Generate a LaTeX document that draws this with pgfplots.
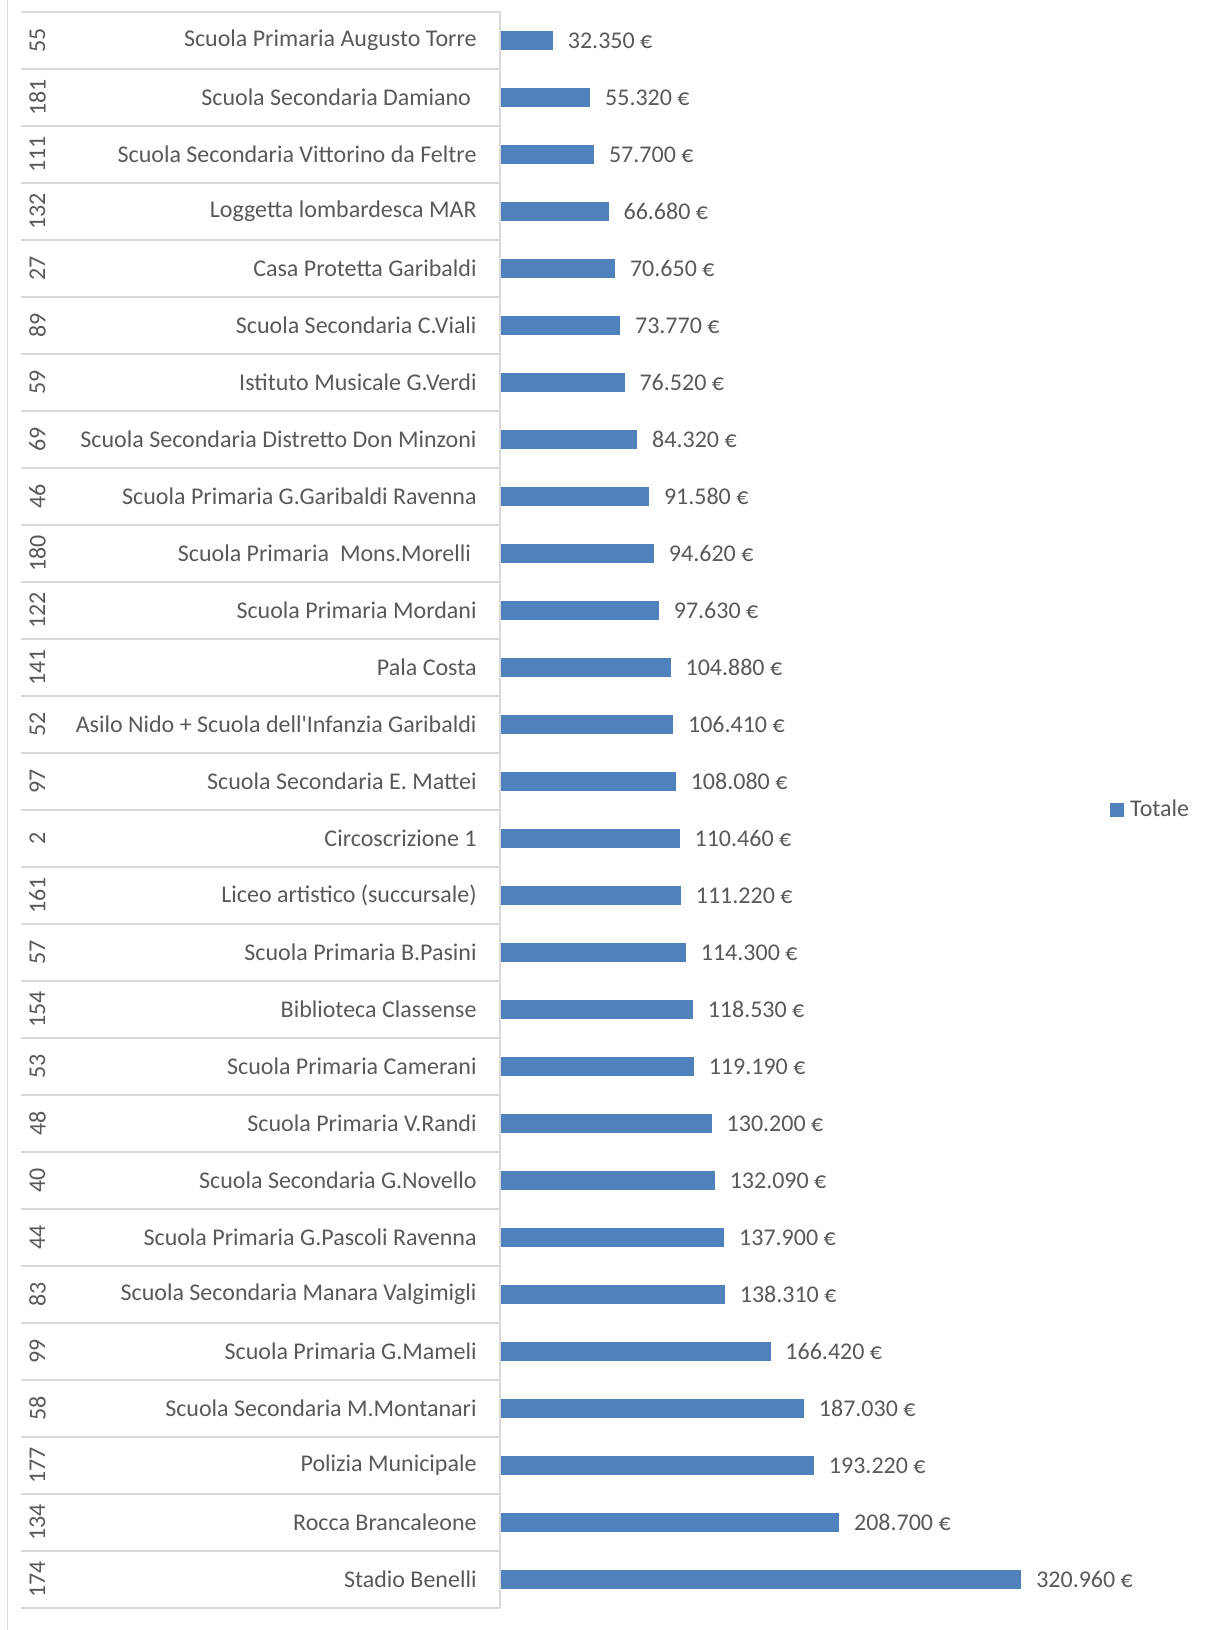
\documentclass[border=0pt]{standalone}
\usepackage{pgfplots}
\pgfplotsset{compat=1.18}
\usepackage{fontspec}
\setmainfont{Carlito}[Ligatures=TeXOff]
\definecolor{barblue}{HTML}{4F81BD}
\definecolor{gridgray}{HTML}{D9D9D9}
\definecolor{textgray}{HTML}{595959}
\begin{document}
\begin{tikzpicture}[font=\fontsize{12pt}{14pt}\selectfont]
\path[use as bounding box] (0,0) rectangle (603pt,815pt);
\draw[gridgray, line width=0.75pt] (3.75pt,0) -- (3.75pt,815pt);
\begin{axis}[
 at={(250pt,11pt)}, anchor=south west,
 width=284pt, height=798pt, scale only axis,
 xbar, bar width=9.35pt,
 xmin=0, xmax=350000,
 ymin=-0.5, ymax=27.5, y dir=reverse,
 axis line style={draw=none},
 xtick=\empty,
 ytick={0,...,27},
 yticklabels={
 {Scuola Primaria Augusto Torre},
 {Scuola Secondaria Damiano\kern2.8pt},
 {Scuola Secondaria Vittorino da Feltre},
 {Loggetta lombardesca MAR},
 {Casa Protetta Garibaldi},
 {Scuola Secondaria C.Viali},
 {Istituto Musicale G.Verdi},
 {Scuola Secondaria Distretto Don Minzoni},
 {Scuola Primaria G.Garibaldi Ravenna},
 {Scuola Primaria\kern2.8pt\ Mons.Morelli\kern2.8pt},
 {Scuola Primaria Mordani},
 {Pala Costa},
 {Asilo Nido + Scuola dell'Infanzia Garibaldi},
 {Scuola Secondaria E. Mattei},
 {Circoscrizione 1},
 {Liceo artistico (succursale)},
 {Scuola Primaria B.Pasini},
 {Biblioteca Classense},
 {Scuola Primaria Camerani},
 {Scuola Primaria V.Randi},
 {Scuola Secondaria G.Novello},
 {Scuola Primaria G.Pascoli Ravenna},
 {Scuola Secondaria Manara Valgimigli},
 {Scuola Primaria G.Mameli},
 {Scuola Secondaria M.Montanari},
 {Polizia Municipale},
 {Rocca Brancaleone},
 {Stadio Benelli}},
 ytick style={draw=none},
 major tick length=0pt,
 yticklabel style={anchor=east, inner sep=0pt, xshift=-11.5pt, text=textgray, font=\fontsize{12pt}{14pt}\selectfont},
 clip=false,
 nodes near coords, point meta=explicit symbolic,
 every node near coord/.append style={anchor=west, inner sep=0pt, xshift=7.5pt, text=textgray, font=\fontsize{12pt}{14pt}\selectfont},
 legend style={at={(1.074,0.5)}, anchor=west, draw=none, fill=none, inner sep=0pt, column sep=3pt, font=\fontsize{12pt}{14pt}\selectfont, text=textgray, nodes={inner sep=0pt}},
 legend image code/.code={\fill[barblue] (0pt,-3.25pt) rectangle (6.5pt,3.25pt);},
 after end axis/.code={
   \foreach \i [evaluate=\i as \yy using \i-0.5] in {0,...,28} {\draw[gridgray, line width=0.75pt] ([xshift=-239.6pt]axis cs:0,\yy) -- (axis cs:0,\yy);}
   \draw[gridgray, line width=0.75pt] (axis cs:0,-0.5) -- (axis cs:0,27.5);
   \foreach \i/\n in {0/55,1/181,2/111,3/132,4/27,5/89,6/59,7/69,8/46,9/180,10/122,11/141,12/52,13/97,14/2,15/161,16/57,17/154,18/53,19/48,20/40,21/44,22/83,23/99,24/58,25/177,26/134,27/174} {\node[rotate=90, text=textgray, inner sep=0pt, font=\fontsize{12pt}{14pt}\selectfont] at ([xshift=-231.3pt]axis cs:0,\i) {\n};}
 },
]
\addplot[fill=barblue, draw=barblue] coordinates {
(32350,0) [32.350~€]
(55320,1) [55.320~€]
(57700,2) [57.700~€]
(66680,3) [66.680~€]
(70650,4) [70.650~€]
(73770,5) [73.770~€]
(76520,6) [76.520~€]
(84320,7) [84.320~€]
(91580,8) [91.580~€]
(94620,9) [94.620~€]
(97630,10) [97.630~€]
(104880,11) [104.880~€]
(106410,12) [106.410~€]
(108080,13) [108.080~€]
(110460,14) [110.460~€]
(111220,15) [111.220~€]
(114300,16) [114.300~€]
(118530,17) [118.530~€]
(119190,18) [119.190~€]
(130200,19) [130.200~€]
(132090,20) [132.090~€]
(137900,21) [137.900~€]
(138310,22) [138.310~€]
(166420,23) [166.420~€]
(187030,24) [187.030~€]
(193220,25) [193.220~€]
(208700,26) [208.700~€]
(320960,27) [320.960~€]
};
\legend{Totale}
\end{axis}
\end{tikzpicture}
\end{document}
